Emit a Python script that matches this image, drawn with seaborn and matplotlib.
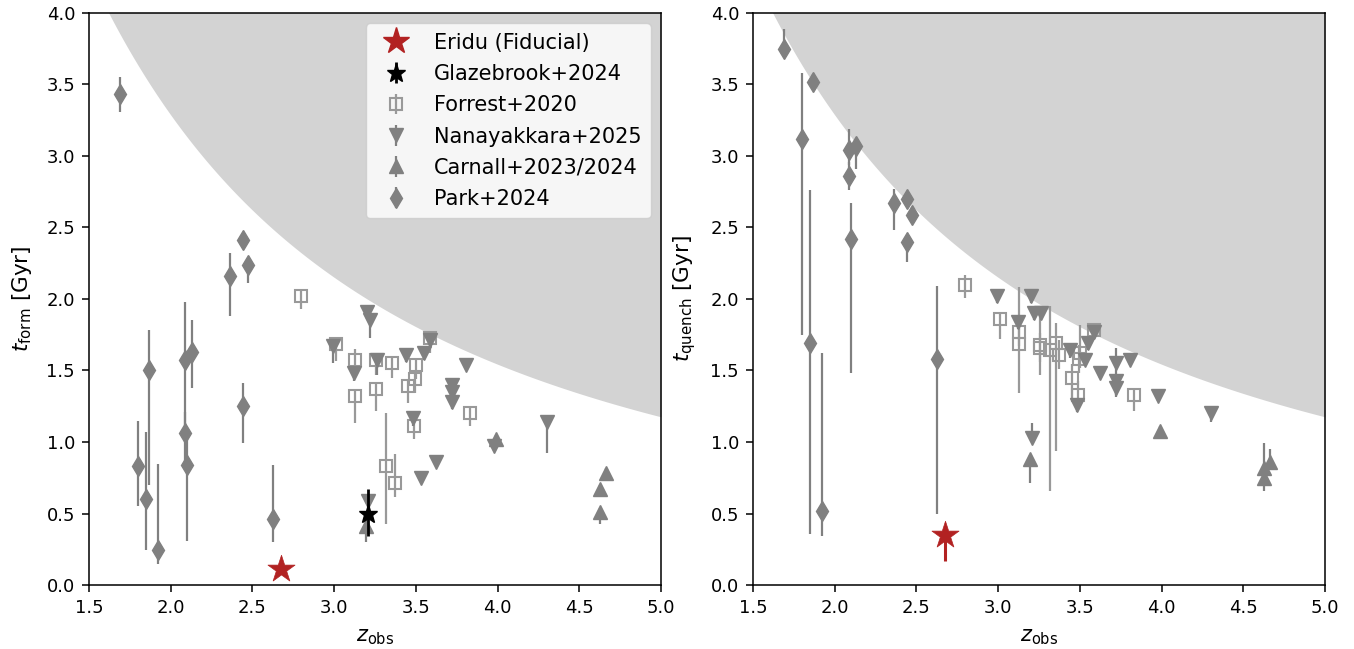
import numpy as np
import matplotlib
matplotlib.use("Agg")
import matplotlib.pyplot as plt
from matplotlib.lines import Line2D
import seaborn as sns

# ---------------- data ----------------
# Park+2024 (thin diamonds)
park_z = [1.69, 1.80, 1.85, 1.867, 1.92, 2.086, 2.09, 2.098, 2.128, 2.36, 2.444, 2.443, 2.473, 2.626]
park_tform = [3.43, 0.83, 0.60, 1.50, 0.245, 1.57, 1.06, 0.84, 1.63, 2.16, 2.41, 1.25, 2.24, 0.46]
park_tform_lo = [0.12, 0.28, 0.355, 0.80, 0.10, 0.45, 0.20, 0.53, 0.25, 0.28, 0.05, 0.26, 0.13, 0.16]
park_tform_hi = [0.12, 0.32, 0.47, 0.28, 0.60, 0.41, 0.15, 0.20, 0.22, 0.16, 0.05, 0.16, 0.05, 0.38]
park_tq = [3.75, 3.12, 1.69, 3.52, 0.52, 3.04, 2.86, 2.42, 3.07, 2.67, 2.70, 2.40, 2.59, 1.58]
park_tq_lo = [0.05, 1.37, 1.33, 0.05, 0.175, 0.10, 0.10, 0.94, 0.16, 0.19, 0.05, 0.14, 0.05, 1.08]
park_tq_hi = [0.14, 0.46, 1.07, 0.05, 1.10, 0.15, 0.10, 0.25, 0.05, 0.10, 0.05, 0.05, 0.05, 0.51]

# Forrest+2020 (open squares)
forrest_z = [2.80, 3.01, 3.13, 3.13, 3.255, 3.255, 3.355, 3.315, 3.37, 3.45, 3.50, 3.495, 3.49, 3.585, 3.83]
forrest_tform = [2.02, 1.685, 1.57, 1.32, 1.57, 1.37, 1.55, 0.83, 0.715, 1.39, 1.54, 1.44, 1.11, 1.725, 1.20]
forrest_tform_lo = [0.09, 0.12, 0.10, 0.19, 0.10, 0.15, 0.10, 0.40, 0.10, 0.12, 0.10, 0.10, 0.09, 0.10, 0.09]
forrest_tform_hi = [0.05, 0.05, 0.08, 0.05, 0.05, 0.05, 0.05, 0.37, 0.20, 0.05, 0.05, 0.05, 0.05, 0.05, 0.05]
forrest_tq = [2.10, 1.86, 1.77, 1.685, 1.68, 1.66, 1.69, 1.64, 1.61, 1.445, 1.62, 1.58, 1.33, 1.78, 1.33]
forrest_tq_lo = [0.09, 0.14, 0.10, 0.34, 0.21, 0.10, 0.75, 0.98, 0.10, 0.15, 0.10, 0.10, 0.10, 0.05, 0.11]
forrest_tq_hi = [0.07, 0.05, 0.10, 0.40, 0.26, 0.10, 0.14, 0.31, 0.10, 0.10, 0.20, 0.10, 0.10, 0.05, 0.05]

# Nanayakkara+2025 (down triangles)
nana_z = [2.995, 3.12, 3.20, 3.22, 3.26, 3.44, 3.55, 3.585, 3.805, 3.72, 3.72, 3.72, 3.485, 3.53, 3.625, 3.205, 4.305, 3.98]
nana_tform = [1.67, 1.48, 1.91, 1.85, 1.57, 1.61, 1.62, 1.71, 1.54, 1.40, 1.35, 1.28, 1.165, 0.75, 0.86, 0.59, 1.14, 0.97]
nana_tform_lo = [0.12, 0.05, 0.05, 0.12, 0.10, 0.05, 0.05, 0.05, 0.03, 0.05, 0.05, 0.05, 0.05, 0.03, 0.03, 0.03, 0.215, 0.03]
nana_tform_hi = [0.03, 0.03, 0.03, 0.03, 0.03, 0.03, 0.03, 0.03, 0.03, 0.03, 0.03, 0.03, 0.03, 0.03, 0.03, 0.03, 0.03, 0.03]
nana_tq = [2.02, 1.84, 2.02, 1.90, 1.90, 1.64, 1.69, 1.77, 1.57, 1.55, 1.43, 1.375, 1.26, 1.57, 1.48, 1.03, 1.20, 1.32]
nana_tq_lo = [0.05, 0.05, 0.05, 0.05, 0.05, 0.05, 0.05, 0.05, 0.03, 0.10, 0.10, 0.06, 0.05, 0.03, 0.03, 0.03, 0.06, 0.03]
nana_tq_hi = [0.03, 0.03, 0.03, 0.03, 0.03, 0.03, 0.03, 0.03, 0.03, 0.11, 0.03, 0.03, 0.03, 0.03, 0.03, 0.10, 0.03, 0.03]

# Carnall+2023/2024 (up triangles)
carnall_z = [4.665, 4.625, 4.625, 3.99, 3.195]
carnall_tform = [0.785, 0.67, 0.51, 1.02, 0.41]
carnall_tform_lo = [0.03, 0.03, 0.08, 0.03, 0.11]
carnall_tform_hi = [0.03, 0.03, 0.03, 0.03, 0.03]
carnall_tq = [0.86, 0.815, 0.746, 1.08, 0.88]
carnall_tq_lo = [0.03, 0.03, 0.09, 0.03, 0.165]
carnall_tq_hi = [0.09, 0.175, 0.03, 0.03, 0.03]

# Glazebrook+2024 (black star, left panel only)
glaze_z = [3.205]
glaze_tform = [0.50]
glaze_tform_lo = [0.16]
glaze_tform_hi = [0.17]

# Eridu (fiducial, red star)
eridu_z = [2.675]
eridu_tform = [0.115]
eridu_tq = [0.35]
eridu_tq_lo = [0.18]
eridu_tq_hi = [0.0]

legend_labels = ["Eridu (Fiducial)", "Glazebrook+2024", "Forrest+2020",
                 "Nanayakkara+2025", "Carnall+2023/2024", "Park+2024"]

# cosmology (Planck-like, flat LCDM) for the age-of-universe boundary
H0 = 67.66
Om0 = 0.3097

XLIM = (1.5, 5.0)
YLIM = (0.0, 4.0)

# ---------------- style ----------------
sns.set_theme(style="ticks")
plt.rcParams['font.family'] = ['DejaVu Sans']
plt.rcParams['mathtext.fontset'] = 'dejavusans'
for k in ("text.color", "axes.labelcolor", "xtick.color", "ytick.color", "axes.edgecolor"):
    plt.rcParams[k] = "black"

GRAY = "#808080"
LGRAY = "#999999"
RED = "#b22222"


def age_gyr(z):
    OmL = 1.0 - Om0
    tH = 977.8 / H0  # Gyr
    return tH * 2.0 / (3.0 * np.sqrt(OmL)) * np.arcsinh(np.sqrt(OmL / Om0) * (1.0 + np.asarray(z)) ** -1.5)


fig = plt.figure(figsize=(13.54, 6.49), dpi=100)
axL = fig.add_axes([0.0657, 0.0986, 0.4225, 0.8814])
axR = fig.add_axes([0.5561, 0.0986, 0.4225, 0.8814])

for ax in (axL, axR):
    zz = np.linspace(XLIM[0], XLIM[1], 400)
    ax.fill_between(zz, age_gyr(zz), YLIM[1] + 1, color="lightgray", lw=0, zorder=0)

eb = dict(capsize=0, zorder=3, elinewidth=1.6)
handles = {}
# left panel (t_form)
handles["Park+2024"] = axL.errorbar(park_z, park_tform, yerr=[park_tform_lo, park_tform_hi], fmt="d", ms=10,
                                    color=GRAY, ecolor=GRAY, **eb)
handles["Forrest+2020"] = axL.errorbar(forrest_z, forrest_tform, yerr=[forrest_tform_lo, forrest_tform_hi], fmt="s",
                                       ms=9, mfc="none", mec=LGRAY, mew=1.5, ecolor=LGRAY, **eb)
handles["Nanayakkara+2025"] = axL.errorbar(nana_z, nana_tform, yerr=[nana_tform_lo, nana_tform_hi], fmt="v", ms=10,
                                           color=GRAY, ecolor=GRAY, **eb)
handles["Carnall+2023/2024"] = axL.errorbar(carnall_z, carnall_tform, yerr=[carnall_tform_lo, carnall_tform_hi],
                                            fmt="^", ms=10, color=GRAY, ecolor=GRAY, **eb)
handles["Glazebrook+2024"] = axL.errorbar(glaze_z, glaze_tform, yerr=[glaze_tform_lo, glaze_tform_hi], fmt="*",
                                          ms=14, color="black", ecolor="black", elinewidth=2, capsize=0, zorder=5)
sns.scatterplot(x=eridu_z, y=eridu_tform, marker="*", s=420, color=RED, edgecolor=RED, linewidth=0.5,
                ax=axL, zorder=6, legend=False)

# right panel (t_quench)
axR.errorbar(park_z, park_tq, yerr=[park_tq_lo, park_tq_hi], fmt="d", ms=10, color=GRAY, ecolor=GRAY, **eb)
axR.errorbar(forrest_z, forrest_tq, yerr=[forrest_tq_lo, forrest_tq_hi], fmt="s",
             ms=9, mfc="none", mec=LGRAY, mew=1.5, ecolor=LGRAY, **eb)
axR.errorbar(nana_z, nana_tq, yerr=[nana_tq_lo, nana_tq_hi], fmt="v", ms=10, color=GRAY, ecolor=GRAY, **eb)
axR.errorbar(carnall_z, carnall_tq, yerr=[carnall_tq_lo, carnall_tq_hi], fmt="^", ms=10,
             color=GRAY, ecolor=GRAY, **eb)
axR.errorbar(eridu_z, eridu_tq, yerr=[eridu_tq_lo, eridu_tq_hi], fmt="none",
             ecolor=RED, elinewidth=2.2, capsize=0, zorder=5)
sns.scatterplot(x=eridu_z, y=eridu_tq, marker="*", s=420, color=RED, edgecolor=RED, linewidth=0.5,
                ax=axR, zorder=6, legend=False)

# legend (left panel)
eridu_handle = Line2D([], [], marker="*", ms=20, color=RED, ls="none")
hdl = [eridu_handle] + [handles[k] for k in legend_labels[1:]]
axL.legend(hdl, legend_labels, loc="upper right", fontsize=15, frameon=True, borderpad=0.45,
           labelspacing=0.54, handletextpad=0.8, fancybox=True, framealpha=0.8, edgecolor="0.8")

for ax, lab in ((axL, r"$t_{\rm form}$ [Gyr]"), (axR, r"$t_{\rm quench}$ [Gyr]")):
    ax.set_xlim(*XLIM)
    ax.set_ylim(*YLIM)
    ax.set_xticks(np.arange(1.5, 5.01, 0.5))
    ax.set_yticks(np.arange(0.0, 4.01, 0.5))
    ax.set_xlabel(r"$z_{\rm obs}$", fontsize=15, labelpad=7)
    ax.set_ylabel(lab, fontsize=15.5, labelpad=9)
    ax.tick_params(labelsize=13, direction="out", length=5, width=1.1, pad=5, color="black")
    for sp in ax.spines.values():
        sp.set_visible(True)
        sp.set_color("black")
        sp.set_linewidth(1.1)

fig.savefig("out.png", dpi=100)
